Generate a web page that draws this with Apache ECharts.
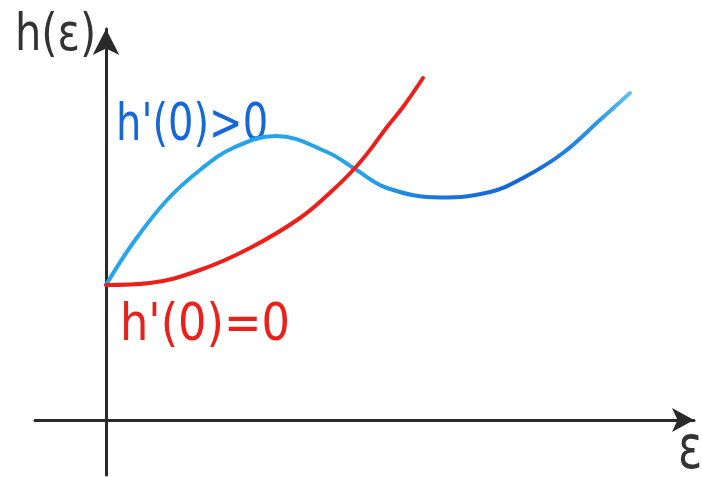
<!DOCTYPE html>
<html>
<head>
<meta charset="utf-8">
<script src="https://cdn.jsdelivr.net/npm/echarts@6/dist/echarts.min.js"></script>
<style>
  html, body { margin: 0; padding: 0; background: #fff; }
  #chart { width: 702px; height: 477px; }
</style>
</head>
<body>
<div id="chart"></div>
<script>
// h(ε) sketch: two curves starting from the same value h(0)
// curve where h'(0) > 0 (rises, dips, rises again)
const epsPositive = [0, 0.54, 1.22, 1.88, 2.54, 3.4, 4.42, 4.98, 5.62, 6.7, 7.68, 8.34, 9.14, 9.88, 10.48];
const hPositive   = [2.7, 3.54, 4.4, 5.0, 5.44, 5.68, 5.36, 5.02, 4.64, 4.45, 4.56, 4.84, 5.34, 6.0, 6.54];

// curve where h'(0) = 0 (flat start, then steep rise)
const epsZero = [0, 0.88, 1.88, 2.88, 3.88, 4.54, 4.98, 5.28, 5.62, 5.94, 6.34];
const hZero   = [2.7, 2.74, 3.0, 3.44, 4.04, 4.6, 5.04, 5.4, 5.86, 6.26, 6.84];

const labelPositive = "h'(0)>0";
const labelZero = "h'(0)=0";
const yName = 'h(ε)';
const xName = 'ε';

const pairs = (xs, ys) => xs.map((x, i) => [x, ys[i]]);

const chart = echarts.init(document.getElementById('chart'), null, { renderer: 'canvas' });

const axisStyle = {
  show: true,
  onZero: true,
  symbol: ['none', 'arrow'],
  lineStyle: { color: '#2a2a2a', width: 3 }
};

const textFont = '52px "DejaVu Sans"';

chart.setOption({
  backgroundColor: '#ffffff',
  animation: false,
  grid: { left: 35, right: 8, top: 29, bottom: 2, containLabel: false },
  xAxis: {
    type: 'value',
    min: -1.42,
    max: 11.76,
    axisLine: Object.assign({}, axisStyle, { symbolSize: [18, 22] }),
    axisTick: { show: false },
    axisLabel: { show: false },
    splitLine: { show: false }
  },
  yAxis: {
    type: 'value',
    min: -1.1,
    max: 7.82,
    axisLine: Object.assign({}, axisStyle, { symbolSize: [20, 26] }),
    axisTick: { show: false },
    axisLabel: { show: false },
    splitLine: { show: false }
  },
  series: [
    {
      name: labelPositive,
      type: 'line',
      smooth: 0.4,
      showSymbol: false,
      data: pairs(epsPositive, hPositive),
      lineStyle: {
        width: 4,
        cap: 'round',
        color: {
          type: 'linear', x: 0, y: 0, x2: 1, y2: 0,
          colorStops: [
            { offset: 0, color: '#27a6ea' },
            { offset: 0.5, color: '#25a2e8' },
            { offset: 0.62, color: '#1b78de' },
            { offset: 0.8, color: '#1464d6' },
            { offset: 0.93, color: '#2b96e4' },
            { offset: 1, color: '#62c4f0' }
          ]
        }
      },
      z: 2
    },
    {
      name: labelZero,
      type: 'line',
      smooth: 0.4,
      showSymbol: false,
      data: pairs(epsZero, hZero),
      lineStyle: { width: 4, cap: 'round', color: '#ec1f1b' },
      z: 3
    }
  ],
  graphic: [
    {
      type: 'text', x: 15, y: 36, scaleX: 0.8,
      style: { text: yName, font: textFont, fill: '#333333', textVerticalAlign: 'middle' }
    },
    {
      type: 'text', x: 116, y: 126, scaleX: 0.77,
      style: { text: labelPositive, font: textFont, fill: '#1668d8', textVerticalAlign: 'middle' }
    },
    {
      type: 'text', x: 120, y: 326, scaleX: 0.86,
      style: { text: labelZero, font: textFont, fill: '#ec1f1b', textVerticalAlign: 'middle' }
    },
    {
      type: 'text', x: 678, y: 452, scaleX: 0.75,
      style: { text: xName, font: '60px "DejaVu Sans"', fill: '#333333', textVerticalAlign: 'middle' }
    }
  ]
});
</script>
</body>
</html>
